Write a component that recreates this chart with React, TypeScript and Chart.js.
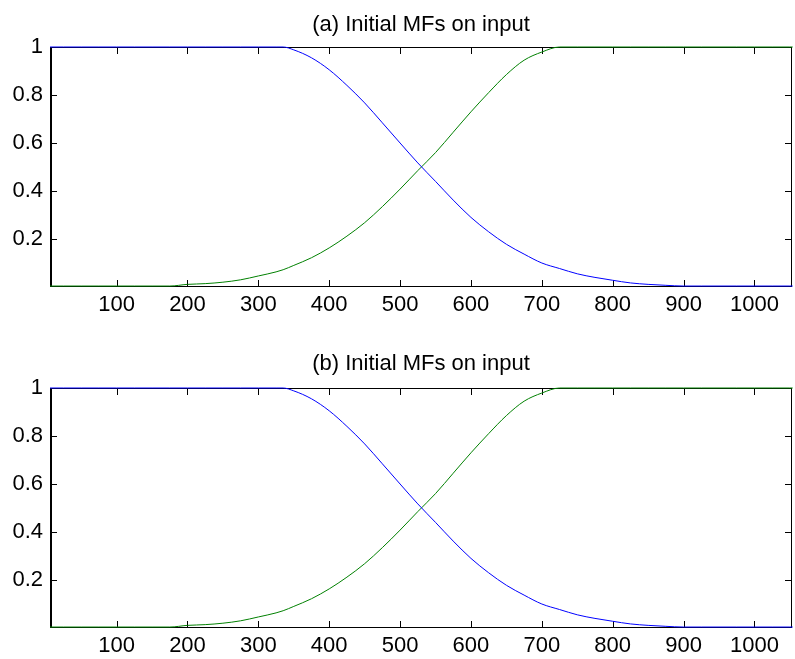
import React, { useEffect, useRef } from "react";
import { Chart, registerables } from "chart.js";

Chart.register(...registerables);

// ---- data ----
const xValues = [
  6, 25, 50, 75, 100, 125, 150, 175, 200, 225, 250, 275, 300, 325, 335, 350, 375,
  400, 425, 450, 475, 500, 525, 550, 575, 600, 625, 650, 675, 700, 725, 750, 775,
  800, 825, 850, 875, 900, 925, 950, 975, 1000, 1025, 1050, 1054,
];

const blueMF = [
  1, 1, 1, 1, 1, 1, 1, 1, 1, 1, 1, 1, 1, 1, 1, 0.988, 0.955,
  0.905, 0.84, 0.767, 0.684, 0.6, 0.517, 0.44, 0.362, 0.29, 0.23, 0.178, 0.137, 0.1, 0.077, 0.055, 0.04,
  0.028, 0.017, 0.011, 0.007, 0.004, 0.004, 0.004, 0.004, 0.004, 0.004, 0.004, 0.004,
];

const greenMF = [
  0.004, 0.004, 0.004, 0.004, 0.004, 0.004, 0.004, 0.004, 0.011, 0.014, 0.02, 0.03, 0.046, 0.063, 0.072, 0.09, 0.122,
  0.163, 0.212, 0.268, 0.335, 0.408, 0.485, 0.56, 0.645, 0.73, 0.81, 0.885, 0.945, 0.979, 1, 1, 1,
  1, 1, 1, 1, 1, 1, 1, 1, 1, 1, 1, 1,
];

const xTicks = [100, 200, 300, 400, 500, 600, 700, 800, 900, 1000];
const xTickLabels = ["100", "200", "300", "400", "500", "600", "700", "800", "900", "1000"];
const yTicks = [0.2, 0.4, 0.6, 0.8, 1];
const yTickLabels = ["0.2", "0.4", "0.6", "0.8", "1"];

const panelTitles = ["(a) Initial MFs on input", "(b) Initial MFs on input"];

const X_MIN = 6;
const X_MAX = 1053;
const FONT_FAMILY = "'Liberation Sans', Arial, Helvetica, sans-serif";
const FONT_SIZE = 22;

type PanelProps = {
  title: string;
  width: number;
  height: number;
  areaTop: number;
  areaBottom: number;
  titleBaseline: number;
};

function Panel({ title, width, height, areaTop, areaBottom, titleBaseline }: PanelProps) {
  const ref = useRef<HTMLCanvasElement | null>(null);

  useEffect(() => {
    const canvas = ref.current;
    if (!canvas) return;

    const framePlugin = {
      id: "matlabFrame",
      beforeDatasetsDraw(chart: any) {
        const { ctx, chartArea: a, scales } = chart;
        ctx.save();
        ctx.strokeStyle = "#000";
        ctx.lineWidth = 1;
        ctx.strokeRect(a.left + 0.5, a.top + 0.5, a.right - a.left - 1, a.bottom - a.top - 1);
        ctx.beginPath();
        ctx.moveTo(a.left + 1.5, a.top);
        ctx.lineTo(a.left + 1.5, a.bottom);
        ctx.stroke();
        const L = 7;
        ctx.beginPath();
        xTicks.forEach((v) => {
          const px = Math.round(scales.x.getPixelForValue(v)) + 0.5;
          ctx.moveTo(px, a.bottom);
          ctx.lineTo(px, a.bottom - L);
          ctx.moveTo(px, a.top);
          ctx.lineTo(px, a.top + L);
        });
        yTicks.forEach((v) => {
          const py = Math.round(scales.y.getPixelForValue(v)) + 0.5;
          ctx.moveTo(a.left, py);
          ctx.lineTo(a.left + L, py);
          ctx.moveTo(a.right, py);
          ctx.lineTo(a.right - L, py);
        });
        ctx.stroke();
        ctx.fillStyle = "#000";
        ctx.font = `${FONT_SIZE}px ${FONT_FAMILY}`;
        ctx.textAlign = "center";
        ctx.textBaseline = "alphabetic";
        ctx.fillText(title, (a.left + a.right) / 2, titleBaseline);
        ctx.restore();
      },
    };

    const chart = new Chart(canvas, {
      type: "line",
      data: {
        datasets: [
          {
            label: "MF1",
            data: xValues.map((x, i) => ({ x, y: blueMF[i] })),
            borderColor: "#0000ff",
            borderWidth: 1,
            pointRadius: 0,
            cubicInterpolationMode: "monotone",
            fill: false,
            clip: 3,
          },
          {
            label: "MF2",
            data: xValues.map((x, i) => ({ x, y: greenMF[i] })),
            borderColor: "#008000",
            borderWidth: 1,
            pointRadius: 0,
            cubicInterpolationMode: "monotone",
            fill: false,
            clip: 3,
          },
        ],
      },
      options: {
        responsive: false,
        animation: false,
        events: [],
        layout: { padding: { top: areaTop, left: 0, right: 3, bottom: 0 } },
        plugins: {
          legend: { display: false },
          tooltip: { enabled: false },
          title: { display: false },
        },
        scales: {
          x: {
            type: "linear",
            min: X_MIN,
            max: X_MAX,
            grid: { display: false, drawTicks: false },
            border: { display: false },
            afterBuildTicks: (scale: any) => {
              scale.ticks = xTicks.map((v) => ({ value: v }));
            },
            afterFit: (scale: any) => {
              scale.height = height - areaBottom;
            },
            ticks: {
              autoSkip: false,
              maxRotation: 0,
              minRotation: 0,
              padding: 5,
              color: "#000",
              font: { family: FONT_FAMILY, size: FONT_SIZE },
              callback: (v: any) => {
                const i = xTicks.indexOf(Number(v));
                return i >= 0 ? xTickLabels[i] : "";
              },
            },
          },
          y: {
            type: "linear",
            min: 0,
            max: 1,
            grid: { display: false, drawTicks: false },
            border: { display: false },
            afterBuildTicks: (scale: any) => {
              scale.ticks = yTicks.map((v) => ({ value: v }));
            },
            afterFit: (scale: any) => {
              scale.width = 50;
            },
            ticks: {
              autoSkip: false,
              padding: 7,
              color: "#000",
              font: { family: FONT_FAMILY, size: FONT_SIZE },
              callback: (v: any) => {
                const i = yTicks.findIndex((t) => Math.abs(t - Number(v)) < 1e-9);
                return i >= 0 ? yTickLabels[i] : "";
              },
            },
          },
        },
      },
      plugins: [framePlugin],
    } as any);

    return () => chart.destroy();
  }, [title, width, height, areaTop, areaBottom, titleBaseline]);

  return <canvas ref={ref} width={width} height={height} style={{ display: "block", width, height }} />;
}

export default function App() {
  return (
    <div
      style={{
        position: "fixed",
        left: 0,
        top: 0,
        width: 795,
        height: 659,
        background: "#fff",
      }}
    >
      <Panel title={panelTitles[0]} width={795} height={341} areaTop={47} areaBottom={287} titleBaseline={31} />
      <Panel title={panelTitles[1]} width={795} height={318} areaTop={47} areaBottom={287} titleBaseline={29} />
    </div>
  );
}
